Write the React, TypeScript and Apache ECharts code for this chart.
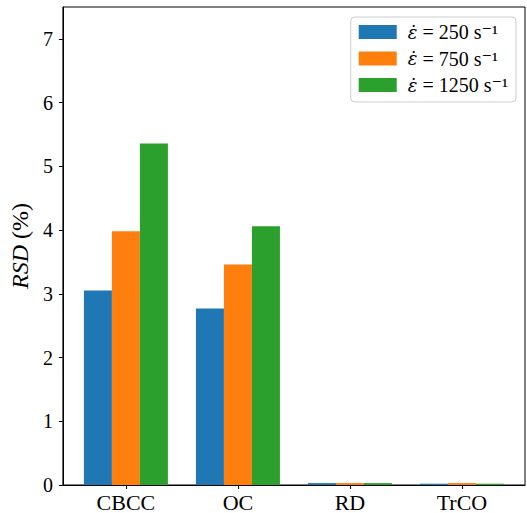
import React, { useEffect, useRef } from "react";
import * as echarts from "echarts";

const categories = ["CBCC", "OC", "RD", "TrCO"];
const rateLabels = ["250", "750", "1250"];
const rate250 = [3.05, 2.77, 0.03, 0.02];
const rate750 = [3.98, 3.46, 0.03, 0.03];
const rate1250 = [5.36, 4.06, 0.03, 0.02];
const colors = ["#1f77b4", "#ff7f0e", "#2ca02c"];
const yTicks = [0, 1, 2, 3, 4, 5, 6, 7];
const xTicks = [0, 1, 2, 3];

const FONT = "'Liberation Serif', 'DejaVu Serif', serif";

export default function App() {
  const ref = useRef<HTMLDivElement>(null);
  useEffect(() => {
    if (!ref.current) return;
    const chart = echarts.init(ref.current, null, { renderer: "svg" });
    const seriesValues = [rate250, rate750, rate1250];
    chart.setOption({
      animation: false,
      grid: {
        left: 62,
        right: 2,
        top: 7,
        bottom: 28,
        show: true,
        borderColor: "#000",
        borderWidth: 1,
        backgroundColor: "transparent",
      },
      legend: {
        orient: "vertical",
        right: 11,
        top: 17,
        itemWidth: 38,
        itemHeight: 14,
        itemGap: 6.5,
        icon: "rect",
        padding: [5, 8, 7, 8],
        borderColor: "#cccccc",
        borderWidth: 1,
        borderRadius: 4,
        backgroundColor: "#fff",
        textStyle: {
          fontFamily: FONT,
          fontSize: 20,
          color: "#000",
          lineHeight: 20,
          rich: {
            i: {
              fontFamily: "'DejaVu Serif', serif",
              fontStyle: "italic",
              fontSize: 18,
              color: "#000",
              padding: [0, 0, 0, 6],
            },
            t: { fontFamily: FONT, fontSize: 20, color: "#000" },
          },
        },
        formatter: (name: string) => `{i|\u03b5\u0307}{t| = ${name} s\u207b\u00b9}`,
      },
      xAxis: {
        type: "value",
        min: -0.5625,
        max: 3.5625,
        splitLine: { show: false },
        axisLine: { show: true, onZero: false, lineStyle: { color: "#000", width: 1 } },
        axisTick: {
          show: true,
          length: 4,
          customValues: xTicks,
          lineStyle: { color: "#000" },
        },
        axisLabel: {
          customValues: xTicks,
          formatter: (v: number) => categories[Math.round(v)] ?? "",
          fontFamily: FONT,
          fontSize: 22,
          color: "#000",
          margin: 6,
        },
      },
      yAxis: {
        type: "value",
        min: 0,
        max: 7.5,
        interval: 1,
        splitLine: { show: false },
        axisLine: { show: true, onZero: false, lineStyle: { color: "#000", width: 1 } },
        axisTick: { show: true, length: 4, customValues: yTicks, lineStyle: { color: "#000" } },
        axisLabel: {
          fontFamily: FONT,
          fontSize: 20,
          color: "#000",
          margin: 10,
          customValues: yTicks,
          formatter: (v: number) => String(v),
        },
        name: "{i|RSD} (%)",
        nameLocation: "middle",
        nameGap: 14,
        nameTextStyle: {
          fontFamily: FONT,
          fontSize: 24,
          color: "#000",
          rich: {
            i: { fontFamily: FONT, fontStyle: "italic", fontSize: 24, color: "#000" },
          },
        },
      },
      series: seriesValues.map((vals, s) => ({
        type: "bar",
        name: rateLabels[s],
        data: vals.map((v, i) => [i, v]),
        barWidth: 28,
        barGap: "0%",
        itemStyle: { color: colors[s] },
      })),
    });
    return () => chart.dispose();
  }, []);
  return <div ref={ref} style={{ width: 527, height: 513, position: "absolute", left: 0, top: 0 }} />;
}
